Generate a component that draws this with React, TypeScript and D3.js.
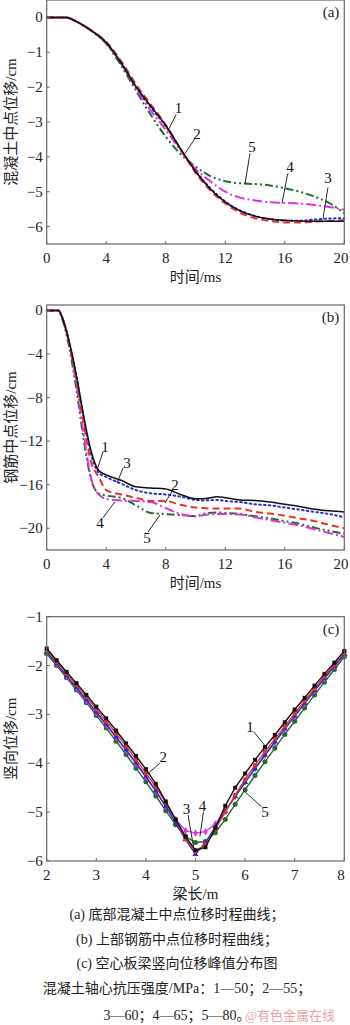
import React from 'react';
import * as d3 from 'd3';

// (a) concrete midpoint displacement, cm
const timeA = [0, 1, 1.3, 2, 3, 4, 5, 6, 7, 8, 9, 10, 11, 12, 13, 14, 15, 16, 17, 18, 19, 20];
const concA1 = [0, 0, 0, -0.12, -0.38, -0.72, -1.3, -1.98, -2.55, -3.1, -3.77, -4.42, -4.92, -5.3, -5.55, -5.7, -5.78, -5.82, -5.84, -5.85, -5.85, -5.85];
const concA2 = [0, 0, 0, -0.12, -0.37, -0.7, -1.25, -1.92, -2.5, -3.08, -3.78, -4.45, -4.96, -5.34, -5.6, -5.76, -5.84, -5.88, -5.88, -5.86, -5.84, -5.82];
const concA3 = [0, 0, 0, -0.12, -0.38, -0.72, -1.32, -2.0, -2.58, -3.12, -3.78, -4.4, -4.9, -5.28, -5.54, -5.7, -5.79, -5.83, -5.83, -5.8, -5.77, -5.76];
const concA4 = [0, 0, 0, -0.12, -0.38, -0.74, -1.32, -2.03, -2.68, -3.22, -3.82, -4.35, -4.7, -5.0, -5.17, -5.25, -5.3, -5.32, -5.34, -5.38, -5.44, -5.52];
const concA5 = [0, 0, 0, -0.12, -0.38, -0.76, -1.38, -2.1, -2.8, -3.42, -3.92, -4.28, -4.55, -4.7, -4.76, -4.78, -4.82, -4.9, -5.0, -5.14, -5.33, -5.62];

// (b) steel bar midpoint displacement, cm
const timeB = [0, 0.8, 1, 1.5, 2, 2.5, 3, 3.5, 4, 5, 6, 7, 8, 9, 10, 10.5, 11.5, 12, 13, 14, 15, 16, 17, 18, 19, 20];
const steelB1 = [0, 0, -0.5, -2.8, -6.0, -9.8, -13.0, -14.7, -15.1, -15.6, -16.2, -16.3, -16.4, -16.9, -17.3, -17.3, -17.1, -17.2, -17.4, -17.45, -17.6, -17.8, -18.0, -18.25, -18.4, -18.5];
const steelB2 = [0, 0, -0.5, -2.9, -6.3, -10.5, -14.0, -15.3, -16.5, -16.9, -17.2, -17.5, -17.5, -17.85, -18.1, -18.15, -18.2, -18.2, -18.2, -18.5, -18.65, -18.85, -19.1, -19.35, -19.7, -20.0];
const steelB3 = [0, 0, -0.5, -2.8, -6.1, -10.0, -13.3, -14.9, -15.3, -15.9, -16.5, -16.8, -16.9, -17.1, -17.4, -17.45, -17.4, -17.5, -17.6, -17.8, -17.9, -18.1, -18.3, -18.5, -18.7, -19.0];
const steelB4 = [0, 0, -0.5, -3.0, -6.8, -11.5, -15.5, -16.9, -17.3, -17.45, -17.5, -17.6, -18.15, -18.7, -18.9, -18.8, -18.7, -18.7, -18.75, -19.0, -19.25, -19.5, -19.75, -20.1, -20.45, -20.8];
const steelB5 = [0, 0, -0.6, -3.3, -7.3, -12.0, -15.6, -16.8, -17.0, -17.2, -17.9, -18.6, -18.7, -18.8, -18.9, -18.7, -18.55, -18.6, -18.7, -18.9, -19.1, -19.35, -19.6, -19.95, -20.25, -20.5];

// (c) peak vertical displacement along the beam, cm
const beamX = [2, 2.2, 2.4, 2.6, 2.8, 3, 3.2, 3.4, 3.6, 3.8, 4, 4.2, 4.4, 4.6, 4.8, 5, 5.2, 5.4, 5.6, 5.8, 6, 6.2, 6.4, 6.6, 6.8, 7, 7.2, 7.4, 7.6, 7.8, 8];
const beamC1 = [-1.65, -1.89, -2.13, -2.36, -2.6, -2.84, -3.08, -3.33, -3.59, -3.85, -4.12, -4.42, -4.78, -5.15, -5.5, -5.78, -5.72, -5.32, -4.87, -4.5, -4.21, -3.93, -3.67, -3.42, -3.16, -2.9, -2.66, -2.41, -2.17, -1.94, -1.7];
const beamC2 = [-1.68, -1.92, -2.16, -2.4, -2.64, -2.89, -3.14, -3.39, -3.65, -3.92, -4.2, -4.48, -4.8, -5.15, -5.55, -5.8, -5.66, -5.35, -5.0, -4.65, -4.33, -4.04, -3.76, -3.5, -3.24, -2.98, -2.72, -2.47, -2.22, -1.98, -1.73];
const beamC3 = [-1.72, -1.96, -2.21, -2.45, -2.7, -2.95, -3.2, -3.46, -3.72, -3.99, -4.27, -4.56, -4.88, -5.22, -5.56, -5.86, -5.62, -5.3, -4.98, -4.68, -4.39, -4.11, -3.83, -3.56, -3.29, -3.03, -2.77, -2.51, -2.26, -2.01, -1.77];
const beamC4 = [-1.72, -1.97, -2.22, -2.47, -2.72, -2.97, -3.22, -3.48, -3.74, -4.01, -4.29, -4.58, -4.88, -5.15, -5.38, -5.43, -5.4, -5.24, -4.98, -4.68, -4.39, -4.11, -3.84, -3.57, -3.3, -3.04, -2.78, -2.52, -2.27, -2.02, -1.78];
const beamC5 = [-1.76, -2.0, -2.25, -2.5, -2.76, -3.02, -3.28, -3.55, -3.82, -4.1, -4.38, -4.67, -4.97, -5.26, -5.5, -5.62, -5.6, -5.42, -5.15, -4.84, -4.54, -4.25, -3.97, -3.69, -3.41, -3.14, -2.87, -2.6, -2.34, -2.08, -1.82];

const timeTicks = [0, 4, 8, 12, 16, 20];
const yTicksA = [0, -1, -2, -3, -4, -5, -6];
const yTicksB = [0, -4, -8, -12, -16, -20];
const beamTicks = [2, 3, 4, 5, 6, 7, 8];
const yTicksC = [-1, -2, -3, -4, -5, -6];

const captions = [
  '(a)  底部混凝土中点位移时程曲线；',
  '(b)  上部钢筋中点位移时程曲线；',
  '(c)  空心板梁竖向位移峰值分布图',
  '混凝土轴心抗压强度/MPa：1—50；2—55；',
  '3—60；4—65；5—80。',
];

// label placement in data units: [label, textX, textY, lineX1, lineY1, lineX2, lineY2]
const notesA: [string, number, number, number, number, number, number][] = [
  ['1', 8.85, -2.6, 8.7, -2.78, 8.15, -3.25],
  ['2', 10.1, -3.33, 9.97, -3.47, 9.3, -3.9],
  ['5', 13.8, -3.73, 13.66, -3.9, 13.33, -4.77],
  ['4', 16.35, -4.3, 16.2, -4.48, 15.81, -5.34],
  ['3', 18.9, -4.62, 18.9, -4.88, 18.57, -5.77],
];
const notesB: [string, number, number, number, number, number, number][] = [
  ['1', 3.92, -12.54, 3.78, -13.0, 3.38, -14.66],
  ['3', 5.4, -14.0, 5.13, -14.47, 4.72, -15.85],
  ['2', 8.62, -16.03, 8.49, -16.48, 7.95, -17.68],
  ['4', 3.58, -19.5, 3.78, -19.04, 4.59, -17.57],
  ['5', 6.74, -20.9, 6.81, -20.35, 7.61, -18.79],
];
const notesC: [string, number, number, number, number, number, number][] = [
  ['1', 6.1, -3.25, 6.17, -3.35, 6.44, -3.69],
  ['2', 4.35, -3.87, 4.28, -4.0, 4.05, -4.2],
  ['5', 6.4, -4.99, 6.33, -4.89, 5.96, -4.55],
  ['3', 4.82, -4.94, 4.85, -5.06, 4.96, -5.71],
  ['4', 5.14, -4.87, 5.16, -4.99, 5.09, -5.5],
];

const colors = ['#111111', '#e8302a', '#2233cc', '#e030e0', '#1f6e2a'];
const dashes = ['none', '7,4', '1.6,3.2', '10,3,2,3', '8,3,2,3,2,3'];
const symbols = [d3.symbolSquare, d3.symbolCircle, d3.symbolTriangle, d3.symbolDiamond, d3.symbolCircle];

const FONT = "'Liberation Serif', 'Times New Roman', 'Noto Sans CJK SC', serif";
const AXIS = '#666';
const fmt = (v: number) => (v < 0 ? '\u2212' + Math.abs(v) : String(v));

const xL = 46.7;
const xR = 344.3;

function Frame({ x, y, xTicks, yTicks, xLabel, yLabel, tag }: any) {
  const [x0, x1] = x.range();
  const [y0, y1] = y.range();
  return (
    <g fontFamily={FONT} fill="#222">
      <rect x={x0} y={y1} width={x1 - x0} height={y0 - y1} fill="none" stroke={AXIS} strokeWidth={1.2} />
      {xTicks.map((t: number) => (
        <g key={'x' + t}>
          <line x1={x(t)} x2={x(t)} y1={y0} y2={y0 - 3} stroke={AXIS} strokeWidth={1} />
          <text x={Math.min(x(t), 341)} y={y0 + 19} textAnchor="middle" fontSize={15}>{fmt(t)}</text>
        </g>
      ))}
      {yTicks.map((t: number) => (
        <g key={'y' + t}>
          <line x1={x0} x2={x0 + 3} y1={y(t)} y2={y(t)} stroke={AXIS} strokeWidth={1} />
          <text x={x0 - 4} y={y(t)} textAnchor="end" dominantBaseline="central" fontSize={15}>{fmt(t)}</text>
        </g>
      ))}
      <text x={(x0 + x1) / 2} y={y0 + 38} textAnchor="middle" fontSize={15}>{xLabel}</text>
      <text transform={`translate(11,${(y0 + y1) / 2}) rotate(-90)`} textAnchor="middle" dominantBaseline="central" fontSize={15}>{yLabel}</text>
      <text x={x1 - 5} y={y1 + 17} textAnchor="end" fontSize={15}>{tag}</text>
    </g>
  );
}

function Notes({ x, y, notes }: any) {
  return (
    <g fontFamily={FONT} fontSize={15} fill="#111">
      {notes.map((n: any, i: number) => (
        <g key={i}>
          <line x1={x(n[3])} y1={y(n[4])} x2={x(n[5])} y2={y(n[6])} stroke="#111" strokeWidth={0.9} />
          <text x={x(n[1])} y={y(n[2])} textAnchor="middle" dominantBaseline="central">{n[0]}</text>
        </g>
      ))}
    </g>
  );
}

export default function App() {
  const xA = d3.scaleLinear().domain([0, 20]).range([xL, xR]);
  const yA = d3.scaleLinear().domain([-6.5, 0.5]).range([244, 0]);
  const xB = d3.scaleLinear().domain([0, 20]).range([xL, xR]);
  const yB = d3.scaleLinear().domain([-22, 0.5]).range([550, 305]);
  const xC = d3.scaleLinear().domain([2, 8]).range([xL, xR]);
  const yC = d3.scaleLinear().domain([-6, -1]).range([861, 616.7]);

  const seriesA = [concA1, concA2, concA3, concA4, concA5];
  const seriesB = [steelB1, steelB2, steelB3, steelB4, steelB5];
  const seriesC = [beamC1, beamC2, beamC3, beamC4, beamC5];

  const lineA = d3.line<number>().x((_, i) => xA(timeA[i])).y(d => yA(d)).curve(d3.curveMonotoneX);
  const lineB = d3.line<number>().x((_, i) => xB(timeB[i])).y(d => yB(d)).curve(d3.curveMonotoneX);
  const lineC = d3.line<number>().x((_, i) => xC(beamX[i])).y(d => yC(d));

  const drawOrder = [4, 3, 2, 1, 0];

  return (
    <svg width={350} height={1025} style={{ position: 'absolute', left: 0, top: 0, background: '#fff' }}>
      <rect width={350} height={1025} fill="#fff" />

      {/* (a) */}
      {drawOrder.map(k => (
        <path key={'a' + k} d={lineA(seriesA[k]) || ''} fill="none" stroke={colors[k]}
          strokeWidth={k === 0 ? 1.5 : 2} strokeDasharray={dashes[k]} strokeLinecap={k === 2 ? 'round' : 'butt'} />
      ))}
      <Frame x={xA} y={yA} xTicks={timeTicks} yTicks={yTicksA} xLabel="时间/ms" yLabel="混凝土中点位移/cm" tag="(a)" />
      <Notes x={xA} y={yA} notes={notesA} />

      {/* (b) */}
      {drawOrder.map(k => (
        <path key={'b' + k} d={lineB(seriesB[k]) || ''} fill="none" stroke={colors[k]}
          strokeWidth={k === 0 ? 1.5 : 2} strokeDasharray={dashes[k]} strokeLinecap={k === 2 ? 'round' : 'butt'} />
      ))}
      <Frame x={xB} y={yB} xTicks={timeTicks} yTicks={yTicksB} xLabel="时间/ms" yLabel="钢筋中点位移/cm" tag="(b)" />
      <Notes x={xB} y={yB} notes={notesB} />

      {/* (c) */}
      {drawOrder.map(k => (
        <g key={'c' + k}>
          <path d={lineC(seriesC[k]) || ''} fill="none" stroke={colors[k]} strokeWidth={1.4} />
          {seriesC[k].map((v, i) => (
            <path key={i} transform={`translate(${xC(beamX[i])},${yC(v)})`}
              d={d3.symbol().type(symbols[k]).size(k === 4 ? 20 : 16)() || ''} fill={colors[k]} />
          ))}
        </g>
      ))}
      <Frame x={xC} y={yC} xTicks={beamTicks} yTicks={yTicksC} xLabel="梁长/m" yLabel="竖向位移/cm" tag="(c)" />
      <Notes x={xC} y={yC} notes={notesC} />

      {/* captions */}
      <g fontFamily={FONT} fontSize={14} fill="#222" textAnchor="middle">
        {captions.map((c, i) => (
          <text key={i} x={177} y={[919, 944, 968, 993, 1020][i]}>{c}</text>
        ))}
      </g>
      <text x={245} y={1020} fontFamily={FONT} fontSize={13} fill="#e8a4a4">@有色金属在线</text>
    </svg>
  );
}
